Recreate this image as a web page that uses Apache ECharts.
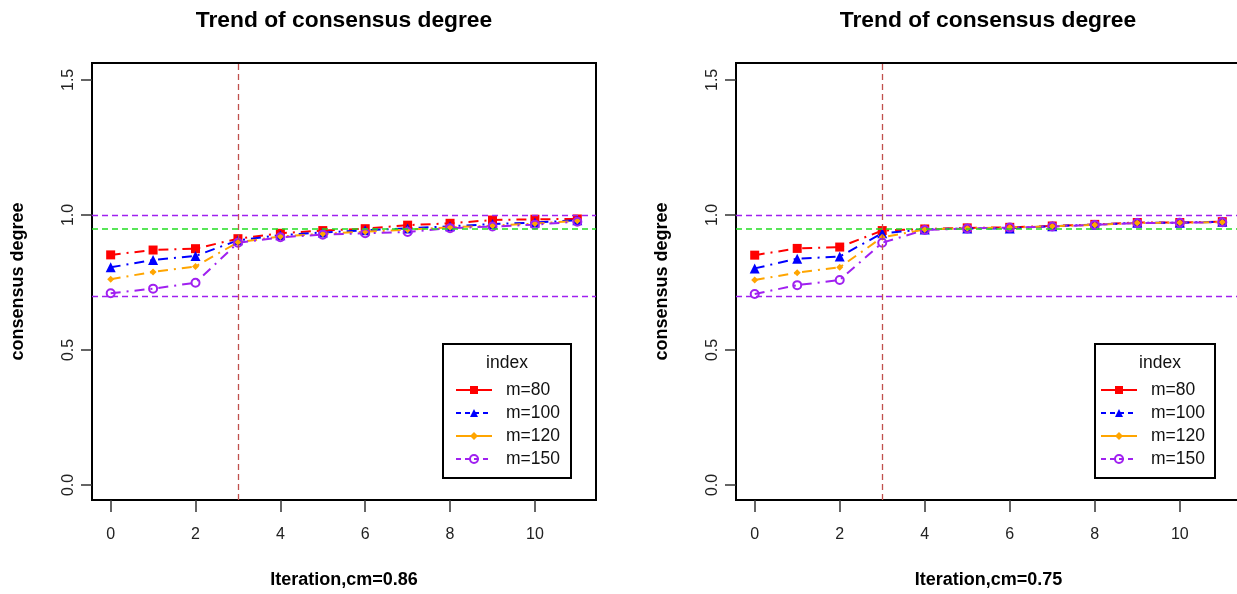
<!DOCTYPE html>
<html>
<head>
<meta charset="utf-8">
<script src="https://cdn.jsdelivr.net/npm/echarts@6/dist/echarts.min.js"></script>
<style>
  html, body { margin: 0; padding: 0; background: #fff; }
  #main { width: 1237px; height: 594px; }
</style>
</head>
<body>
<div id="main"></div>
<script>
// data
var iterations = [0, 1, 2, 3, 4, 5, 6, 7, 8, 9, 10, 11];
var seriesNames = ['m=80', 'm=100', 'm=120', 'm=150'];

// left panel, cm=0.86
var m80Left  = [0.852, 0.870, 0.875, 0.912, 0.932, 0.942, 0.949, 0.962, 0.969, 0.981, 0.984, 0.985];
var m100Left = [0.806, 0.833, 0.848, 0.906, 0.925, 0.935, 0.943, 0.950, 0.958, 0.966, 0.972, 0.980];
var m120Left = [0.762, 0.789, 0.809, 0.899, 0.920, 0.930, 0.938, 0.945, 0.954, 0.960, 0.968, 0.978];
var m150Left = [0.710, 0.727, 0.749, 0.897, 0.917, 0.927, 0.932, 0.937, 0.951, 0.957, 0.964, 0.975];

// right panel, cm=0.75
var m80Right  = [0.851, 0.876, 0.881, 0.942, 0.948, 0.952, 0.954, 0.959, 0.965, 0.972, 0.972, 0.975];
var m100Right = [0.802, 0.838, 0.846, 0.932, 0.946, 0.950, 0.950, 0.958, 0.964, 0.971, 0.971, 0.975];
var m120Right = [0.759, 0.786, 0.806, 0.917, 0.946, 0.951, 0.953, 0.958, 0.963, 0.970, 0.971, 0.973];
var m150Right = [0.707, 0.740, 0.759, 0.897, 0.944, 0.950, 0.953, 0.957, 0.963, 0.970, 0.971, 0.973];

// reference lines
var iterLine = 3;
var upperLine = 1.0;
var goalLine = 0.95;
var lowerLine = 0.7;

var xTicks = [0, 2, 4, 6, 8, 10];
var yTicks = [0, 0.5, 1.0, 1.5];
var xTitles = ['Iteration,cm=0.86', 'Iteration,cm=0.75'];
var panelTitle = 'Trend of consensus degree';

var FONT = '"Liberation Sans", Arial, sans-serif';
var colors = ['#ff0000', '#0000ff', '#ffa500', '#a020f0'];
var symbols = ['rect', 'triangle', 'diamond', 'circle'];
var symbolSizes = [9, 10, 7, 8];

var myChart = echarts.init(document.getElementById('main'));

var grids = [
    { left: 92, top: 63, width: 504, height: 437 },
    { left: 736, top: 63, width: 505, height: 437 }
];

var makeX = function(idx) {
    return {
        type: 'value', gridIndex: idx,
        min: -0.44, max: 11.44,
        name: xTitles[idx], nameLocation: 'middle', nameGap: 71,
        nameTextStyle: { fontFamily: FONT, fontSize: 18, fontWeight: 'bold', color: '#000' },
        splitLine: { show: false },
        axisLine: { show: false, onZero: false },
        axisTick: { show: true, length: 12, customValues: xTicks, lineStyle: { color: '#333', width: 1.5 } },
        axisLabel: { customValues: xTicks, margin: 27, fontFamily: FONT, fontSize: 16, color: '#222' }
    };
};

var makeY = function(idx) {
    return {
        type: 'value', gridIndex: idx,
        min: -0.0556, max: 1.5625,
        name: 'consensus degree', nameLocation: 'middle', nameGap: 65,
        nameTextStyle: { fontFamily: FONT, fontSize: 18, fontWeight: 'bold', color: '#000' },
        splitLine: { show: false },
        axisLine: { show: false, onZero: false },
        axisTick: { show: true, length: 11, customValues: yTicks, lineStyle: { color: '#333', width: 1.5 } },
        axisLabel: {
            customValues: yTicks, rotate: 90, margin: 15,
            fontFamily: FONT, fontSize: 16, color: '#222',
            formatter: function(v) { return v.toFixed(1); }
        }
    };
};

var refLines = function() {
    return {
        silent: true, animation: false,
        symbol: ['none', 'none'],
        label: { show: false },
        data: [
            { xAxis: iterLine, lineStyle: { color: '#c0504d', type: [6, 4], width: 1.3 } },
            { yAxis: upperLine, lineStyle: { color: '#a020f0', type: [6, 4], width: 1.3 } },
            { yAxis: goalLine, lineStyle: { color: '#22dd22', type: [6, 4], width: 1.5 } },
            { yAxis: lowerLine, lineStyle: { color: '#a020f0', type: [6, 4], width: 1.3 } }
        ]
    };
};

var makeSeries = function(idx, name, values, k) {
    var pts = [];
    for (var i = 0; i < iterations.length; i++) {
        pts.push([iterations[i], values[i]]);
    }
    var s = {
        name: name, type: 'line',
        xAxisIndex: idx, yAxisIndex: idx,
        data: pts,
        symbol: symbols[k], symbolSize: symbolSizes[k],
        showAllSymbol: true,
        lineStyle: { color: colors[k], width: 2, type: [10, 6, 2, 6] },
        itemStyle: { color: colors[k] },
        animation: false
    };
    if (k === 3) {
        s.itemStyle = { color: 'rgba(0,0,0,0)', borderColor: colors[k], borderWidth: 2 };
    }
    if (k === 0) {
        s.markLine = refLines();
    }
    return s;
};

var leftValues = [m80Left, m100Left, m120Left, m150Left];
var rightValues = [m80Right, m100Right, m120Right, m150Right];
var series = [];
for (var k = 0; k < 4; k++) series.push(makeSeries(0, seriesNames[k], leftValues[k], k));
for (var k = 0; k < 4; k++) series.push(makeSeries(1, seriesNames[k], rightValues[k], k));

var legendTypes = ['solid', [5, 4], 'solid', [5, 4]];
var legendData = [];
for (var k = 0; k < 4; k++) {
    legendData.push({ name: seriesNames[k], lineStyle: { type: legendTypes[k], width: 2, color: colors[k] } });
}

var makeLegend = function(left) {
    return {
        left: left, top: 381, orient: 'vertical', padding: 0,
        itemWidth: 36, itemHeight: 10, itemGap: 5,
        selectedMode: false,
        data: legendData,
        textStyle: { fontFamily: FONT, fontSize: 17.5, color: '#111', padding: [0, 0, 0, 9] }
    };
};

var graphics = [
    { type: 'text', x: 344, y: 9, style: { text: panelTitle, fontFamily: FONT, fontSize: 22.8, fontWeight: 'bold', fill: '#000', align: 'center' } },
    { type: 'text', x: 988, y: 9, style: { text: panelTitle, fontFamily: FONT, fontSize: 22.8, fontWeight: 'bold', fill: '#000', align: 'center' } },
    { type: 'rect', shape: { x: 443, y: 344, width: 128, height: 134 }, style: { fill: 'none', stroke: '#000', lineWidth: 2 }, z: 10 },
    { type: 'text', x: 507, y: 354, style: { text: 'index', fontFamily: FONT, fontSize: 17.5, fill: '#111', align: 'center' }, z: 10 },
    { type: 'rect', shape: { x: 1095, y: 344, width: 120, height: 134 }, style: { fill: 'none', stroke: '#000', lineWidth: 2 }, z: 10 },
    { type: 'text', x: 1160, y: 354, style: { text: 'index', fontFamily: FONT, fontSize: 17.5, fill: '#111', align: 'center' }, z: 10 }
];

var option = {
    backgroundColor: '#fff',
    animation: false,
    grid: grids.map(function(g) {
        return Object.assign({
            show: true, borderColor: '#000', borderWidth: 2,
            backgroundColor: 'transparent', outerBoundsMode: 'none', containLabel: false
        }, g);
    }),
    xAxis: [makeX(0), makeX(1)],
    yAxis: [makeY(0), makeY(1)],
    legend: [makeLegend(455), makeLegend(1100)],
    graphic: graphics,
    series: series
};

myChart.setOption(option);
</script>
</body>
</html>
